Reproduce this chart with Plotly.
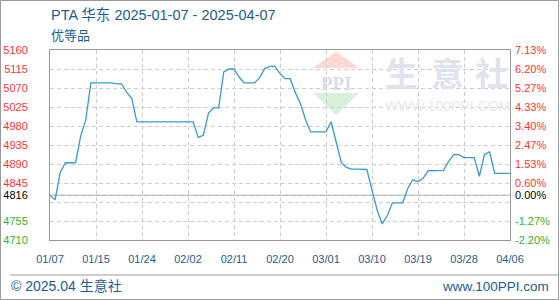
import pandas as pd
import plotly.graph_objects as go

# ---------------- data ----------------
start_date = "2025-01-07"
end_date = "2025-04-07"
dates = pd.date_range(start_date, end_date, freq="D")

prices = [
    4816, 4805, 4870, 4893, 4893, 4893, 4956, 4995, 5082, 5082,
    5082, 5082, 5082, 5080, 5080, 5060, 5045, 4990, 4990, 4990,
    4990, 4990, 4990, 4990, 4990, 4990, 4990, 4990, 4990, 4953,
    4958, 5010, 5023, 5023, 5108, 5115, 5115, 5096, 5082, 5082,
    5082, 5094, 5116, 5121, 5121, 5104, 5092, 5092, 5059, 5033,
    4995, 4966, 4966, 4966, 4966, 4990, 4940, 4893, 4882, 4878,
    4878, 4878, 4877, 4828, 4781, 4748, 4768, 4798, 4798, 4798,
    4832, 4853, 4848, 4856, 4874, 4874, 4874, 4875, 4896, 4912,
    4912, 4905, 4905, 4905, 4861, 4912, 4919, 4868, 4868, 4868,
    4868,
]

base_value = 4816
y_min, y_max = 4710, 5160
y_tick_values = [4710, 4755, 4800, 4816, 4845, 4890, 4935, 4980, 5025, 5070, 5115, 5160]
y_tick_labels = ["4710", "4755", "", "4816", "4845", "4890", "4935", "4980", "5025", "5070", "5115", "5160"]
pct_tick_labels = ["-2.20%", "-1.27%", "", "0.00%", "0.60%", "1.53%", "2.47%", "3.40%", "4.33%", "5.27%", "6.20%", "7.13%"]

x_tick_dates = ["2025-01-07", "2025-01-16", "2025-01-25", "2025-02-03", "2025-02-12", "2025-02-21",
                "2025-03-02", "2025-03-11", "2025-03-20", "2025-03-29", "2025-04-07"]
x_tick_labels = ["01/07", "01/15", "01/24", "02/02", "02/11", "02/20",
                 "03/01", "03/10", "03/19", "03/28", "04/06"]

title_text = "PTA 华东 2025-01-07 - 2025-04-07"
subtitle_text = "优等品"
footer_left = "© 2025.04 生意社"
footer_right = "www.100PPI.com"

# ---------------- styling ----------------
RED = "#ff3333"
GREEN = "#33b033"
BLACK = "#000000"
BLUE_TXT = "#1a5e8e"
LINE = "#3a98d8"
FONT = "Liberation Sans, Noto Sans CJK SC, sans-serif"


def colour_for(v):
    if v > base_value:
        return RED
    if v < base_value:
        return GREEN
    return BLACK


left_text = [f"<span style='color:{colour_for(v)}'>{t}</span>" if t else "" for v, t in zip(y_tick_values, y_tick_labels)]
right_text = [f"<span style='color:{colour_for(v)}'>{t}</span>" if t else "" for v, t in zip(y_tick_values, pct_tick_labels)]

fig = go.Figure()
fig.add_trace(go.Scatter(x=dates, y=prices, mode="lines",
                         line=dict(color=LINE, width=1.3), hoverinfo="x+y", showlegend=False))
fig.add_trace(go.Scatter(x=dates, y=prices, mode="lines", yaxis="y2",
                         line=dict(color="rgba(0,0,0,0)", width=0), hoverinfo="skip", showlegend=False))

W, H = 560, 300
L, R, T, B = 50, 50, 50, 60
PW, PH = W - L - R, H - T - B


def xp(px):
    return (px - L) / PW


def yp(py):
    return (H - B - py) / PH


shapes = []
# outer frame
shapes.append(dict(type="rect", xref="paper", yref="paper", x0=xp(0.5), x1=xp(558.5), y0=yp(299.5), y1=yp(0.5),
                   line=dict(color="#9a9a9a", width=1), layer="below"))
# footer separator
shapes.append(dict(type="line", xref="paper", yref="paper", x0=xp(10), x1=xp(558), y0=yp(275), y1=yp(275),
                   line=dict(color="#9a9a9a", width=1), layer="below"))
# watermark logo: red roof and green base
shapes.append(dict(type="path", xref="paper", yref="paper",
                   path=f"M {xp(336)},{yp(51.5)} L {xp(359)},{yp(68)} L {xp(313)},{yp(68)} Z",
                   fillcolor="#f8d9d4", line=dict(width=0), layer="below"))
shapes.append(dict(type="path", xref="paper", yref="paper",
                   path=f"M {xp(313)},{yp(93)} L {xp(359)},{yp(93)} L {xp(336)},{yp(115)} Z",
                   fillcolor="#d9f0da", line=dict(width=0), layer="below"))
# baseline
shapes.append(dict(type="line", xref="paper", yref="y", x0=0, x1=1, y0=base_value, y1=base_value,
                   line=dict(color="#999999", width=1.2), layer="between"))

annotations = [
    dict(text=title_text, xref="paper", yref="paper", x=xp(49), y=yp(15), xanchor="left", yanchor="middle",
         showarrow=False, font=dict(family=FONT, size=14.5, color=BLUE_TXT)),
    dict(text=subtitle_text, xref="paper", yref="paper", x=xp(49), y=yp(35), xanchor="left", yanchor="middle",
         showarrow=False, font=dict(family=FONT, size=13, color=BLUE_TXT)),
    dict(text=footer_left, xref="paper", yref="paper", x=xp(9), y=yp(286), xanchor="left", yanchor="middle",
         showarrow=False, font=dict(family=FONT, size=14, color=BLUE_TXT)),
    dict(text=footer_right, xref="paper", yref="paper", x=xp(551), y=yp(286), xanchor="right", yanchor="middle",
         showarrow=False, font=dict(family=FONT, size=13.5, color=BLUE_TXT)),
    # watermark text
    dict(text="<b>PPI</b>", xref="paper", yref="paper", x=xp(336), y=yp(83), xanchor="center", yanchor="middle",
         showarrow=False, font=dict(family="Liberation Serif, serif", size=19, color="#d6dce9")),
    dict(text="<b>生</b>", xref="paper", yref="paper", x=xp(401), y=yp(72), xanchor="center", yanchor="middle",
         showarrow=False, font=dict(family="Noto Sans CJK SC", size=33, color="#dfe3ed")),
    dict(text="<b>意</b>", xref="paper", yref="paper", x=xp(447), y=yp(72), xanchor="center", yanchor="middle",
         showarrow=False, font=dict(family="Noto Sans CJK SC", size=33, color="#dfe3ed")),
    dict(text="<b>社</b>", xref="paper", yref="paper", x=xp(491), y=yp(72), xanchor="center", yanchor="middle",
         showarrow=False, font=dict(family="Noto Sans CJK SC", size=33, color="#dfe3ed")),
    dict(text="WWW.100PPI.COM", xref="paper", yref="paper", x=xp(447), y=yp(106), xanchor="center", yanchor="middle",
         showarrow=False, font=dict(family=FONT, size=14, color="#e9e9e9")),
]

fig.update_layout(
    width=W, height=H,
    margin=dict(l=L, r=R, t=T, b=B, pad=0, autoexpand=False),
    paper_bgcolor="white", plot_bgcolor="rgba(0,0,0,0)",
    font=dict(family=FONT, size=11),
    showlegend=False,
    shapes=shapes,
    annotations=annotations,
    xaxis=dict(
        type="date", range=[start_date, end_date], automargin=False,
        tickmode="array", tickvals=x_tick_dates, ticktext=x_tick_labels,
        tickfont=dict(family=FONT, size=11, color=BLUE_TXT),
        ticks="", ticklabelstandoff=9,
        showgrid=True, gridcolor="#cccccc", griddash="4px,3px", gridwidth=1,
        showline=True, linecolor="#999999", linewidth=1, mirror=True,
        zeroline=False, fixedrange=True,
    ),
    yaxis=dict(
        range=[y_min, y_max], automargin=False,
        tickmode="array", tickvals=y_tick_values, ticktext=left_text,
        tickfont=dict(family=FONT, size=11),
        ticks="", ticklabelstandoff=19,
        showgrid=True, gridcolor="#cccccc", griddash="4px,3px", gridwidth=1,
        showline=True, linecolor="#999999", linewidth=1, mirror=True,
        zeroline=False, fixedrange=True,
    ),
    yaxis2=dict(
        range=[y_min, y_max], overlaying="y", side="right", automargin=False,
        tickmode="array", tickvals=y_tick_values, ticktext=right_text,
        tickfont=dict(family=FONT, size=11),
        ticks="", ticklabelstandoff=4,
        showgrid=False, showline=False, zeroline=False, fixedrange=True,
    ),
)

fig.write_html("out.html")
